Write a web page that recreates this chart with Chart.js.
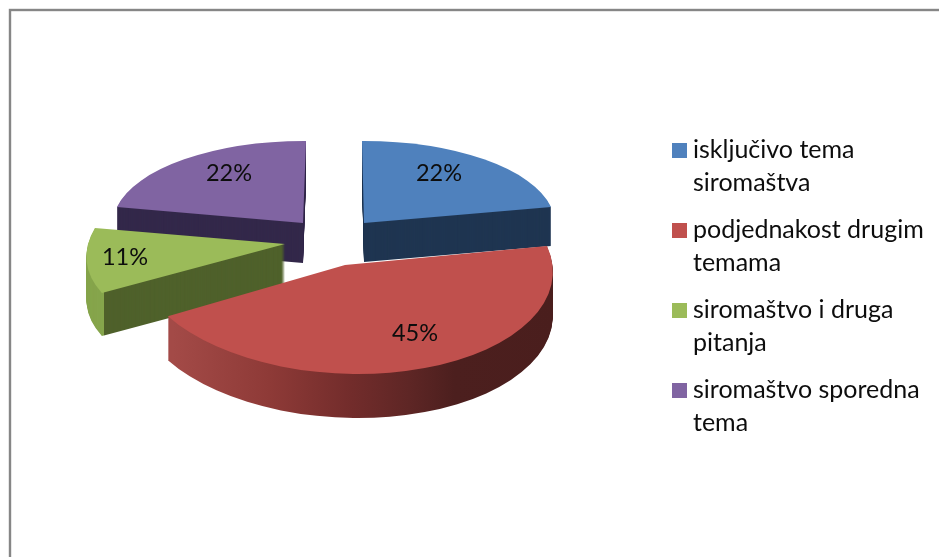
<!DOCTYPE html>
<html>
<head>
<meta charset="utf-8">
<title>Siromaštvo</title>
<script src="https://cdn.jsdelivr.net/npm/chart.js@4"></script>
<style>
html, body { margin: 0; background: #fff; overflow: hidden; }
canvas { display: block; }
</style>
</head>
<body>
<canvas id="pieChart" width="939" height="557"></canvas>
<script>
const categories = ['isključivo tema siromaštva', 'podjednakost drugim temama', 'siromaštvo i druga pitanja', 'siromaštvo sporedna tema'];
const legendLines = [['isključivo tema', 'siromaštva'], ['podjednakost drugim', 'temama'], ['siromaštvo i druga', 'pitanja'], ['siromaštvo sporedna', 'tema']];
const values = [22, 45, 11, 22];
const colors = ['#4f81bd', '#c0504d', '#9bbb59', '#8064a2'];
const sideColors = ['#1f3551', null, '#4f612b', '#33284a'];

// how each flat slice is laid onto the tilted plane: origin + 2x2 matrix, depth of the side wall
const views = [
    { x: 364, y: 223, a: 190.8, b: 2, c: -0.7, d: 82, depth: 39, label: [439, 173] },
    { x: 345, y: 265, a: 207.6, b: 10, c: 1.5, d: 109, depth: 44, label: [415, 333] },
    { x: 285, y: 244, a: 197.5, b: -20.9, c: -2.3, d: 97.5, depth: 43, label: [125, 257], rimUntil: 104, rimColor: '#86a54c' },
    { x: 303, y: 223, a: 190, b: -3, c: 0.7, d: 82, depth: 40, label: [229, 173] }
];
const drawOrder = [3, 0, 2, 1];
const LABEL_FONT = '23.5px Lato, Carlito, sans-serif';
const LEGEND_FONT = '25px Lato, Carlito, sans-serif';

function drawSlice(ctx, arc, view, fill, shift) {
    const R = arc.outerRadius;
    const saved = arc.options;
    arc.options = Object.assign({}, saved, { backgroundColor: fill, borderWidth: 0 });
    ctx.save();
    ctx.translate(0, shift);
    ctx.transform(view.a / R, view.c / R, view.b / R, view.d / R, view.x, view.y);
    ctx.translate(-arc.x, -arc.y);
    arc.draw(ctx);
    ctx.restore();
    arc.options = saved;
}

function redRim(ctx, arc, view) {
    // stops are given along the screen, converted to the slice's own x
    const toLocal = sx => arc.x + (sx - view.x) * arc.outerRadius / view.a;
    const g = ctx.createLinearGradient(toLocal(168), 0, toLocal(554), 0);
    g.addColorStop(0, '#a34a47');
    g.addColorStop(0.24, '#8e3a37');
    g.addColorStop(0.45, '#722c2b');
    g.addColorStop(0.6, '#5e2625');
    g.addColorStop(0.72, '#4c1f1e');
    g.addColorStop(1, '#4a1e1d');
    return g;
}

const pie3d = {
    id: 'pie3d',
    beforeDraw(chart) {
        const ctx = chart.ctx;
        ctx.save();
        ctx.strokeStyle = '#868686';
        ctx.lineWidth = 2.4;
        ctx.strokeRect(10, 10, 1000, 600);
        ctx.restore();
    },
    beforeDatasetsDraw(chart) {
        const ctx = chart.ctx;
        const arcs = chart.getDatasetMeta(0).data;
        drawOrder.forEach(i => {
            const arc = arcs[i];
            const view = views[i];
            const side = sideColors[i] || redRim(ctx, arc, view);
            for (let s = view.depth; s >= 1; s--) {
                if (view.rimUntil) {
                    ctx.save();
                    ctx.beginPath();
                    ctx.rect(view.rimUntil, 0, 939, 557);
                    ctx.clip();
                    drawSlice(ctx, arc, view, side, s);
                    ctx.restore();
                    ctx.save();
                    ctx.beginPath();
                    ctx.rect(0, 0, view.rimUntil, 557);
                    ctx.clip();
                    drawSlice(ctx, arc, view, view.rimColor, s);
                    ctx.restore();
                } else {
                    drawSlice(ctx, arc, view, side, s);
                }
            }
            drawSlice(ctx, arc, view, colors[i], 0);
        });
        return false;
    },
    afterDraw(chart) {
        const ctx = chart.ctx;
        ctx.save();
        ctx.font = LABEL_FONT;
        ctx.fillStyle = '#0d0d0d';
        ctx.textAlign = 'center';
        ctx.textBaseline = 'middle';
        values.forEach((v, i) => ctx.fillText(v + '%', views[i].label[0], views[i].label[1]));

        ctx.font = LEGEND_FONT;
        ctx.textAlign = 'left';
        ctx.textBaseline = 'alphabetic';
        legendLines.forEach((lines, i) => {
            const base = 158 + i * 80;
            ctx.fillStyle = colors[i];
            ctx.fillRect(672, base - 15, 15, 15);
            ctx.fillStyle = '#0d0d0d';
            lines.forEach((line, j) => ctx.fillText(line, 693, base + j * 32.5));
        });
        ctx.restore();
    }
};

new Chart(document.getElementById('pieChart'), {
    type: 'pie',
    data: {
        labels: categories,
        datasets: [{
            data: values,
            backgroundColor: colors,
            borderWidth: 0
        }]
    },
    options: {
        responsive: false,
        animation: false,
        plugins: {
            legend: { display: false },
            tooltip: { enabled: false }
        }
    },
    plugins: [pie3d]
});
</script>
</body>
</html>
